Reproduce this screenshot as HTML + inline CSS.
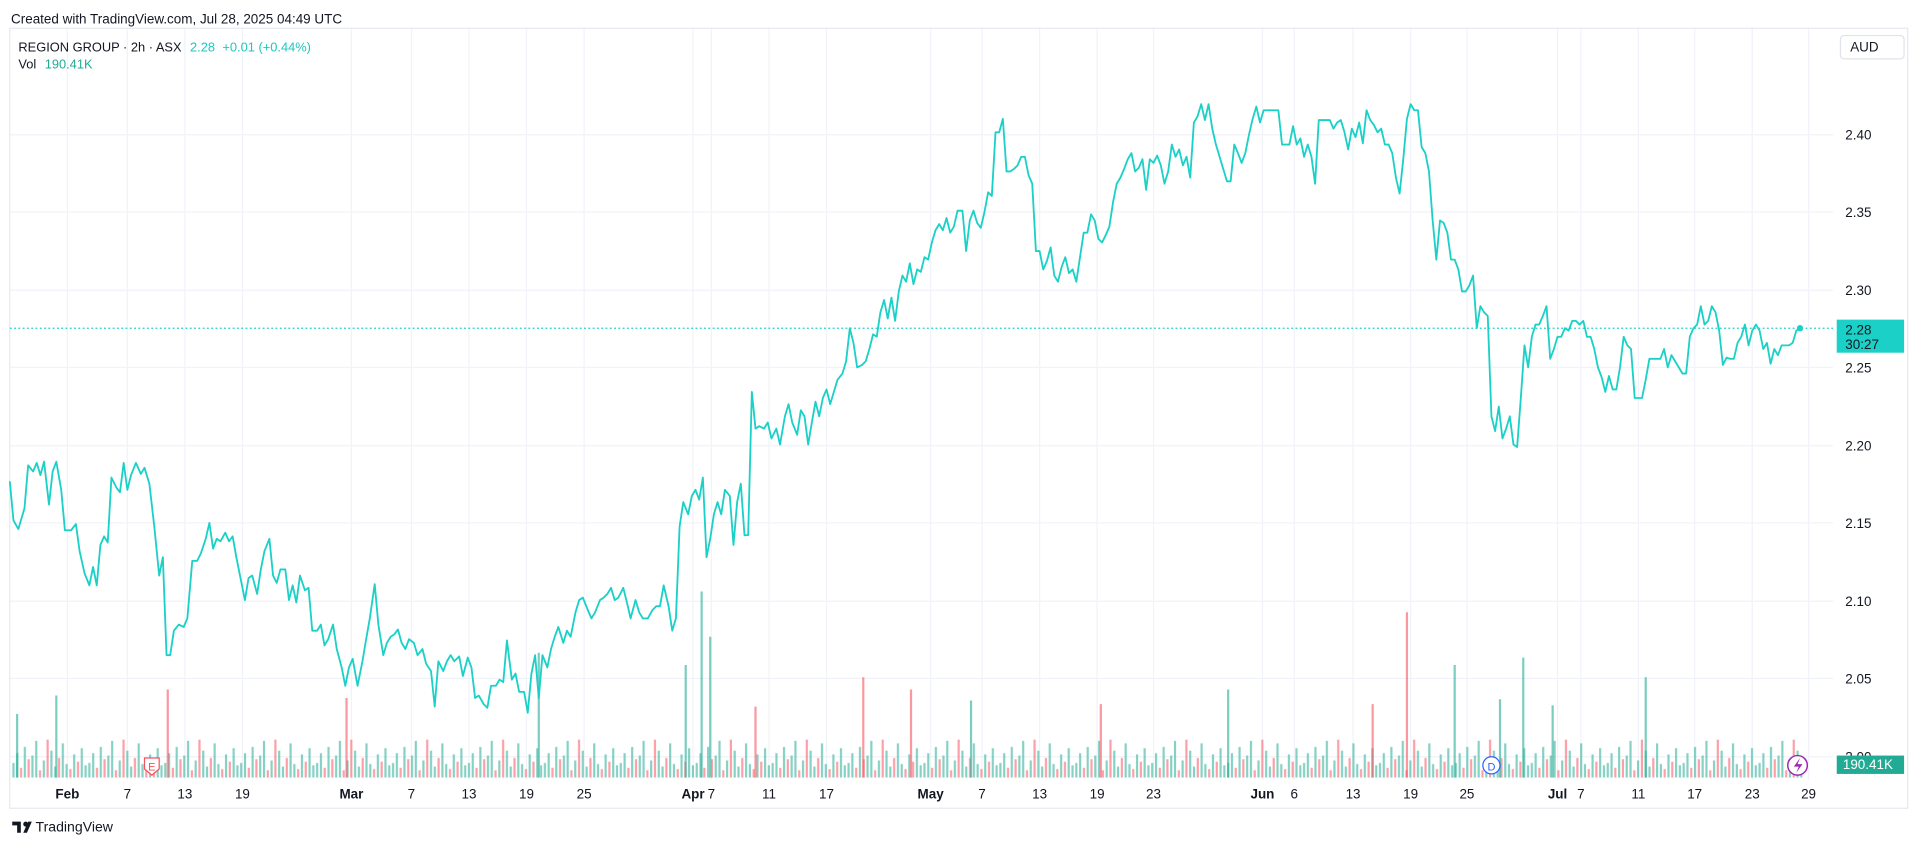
<!DOCTYPE html>
<html><head><meta charset="utf-8"><style>
html,body{margin:0;padding:0;background:#fff;}
svg{display:block;font-family:"Liberation Sans",Arial,sans-serif;}
</style></head><body>
<svg width="1920" height="845" viewBox="0 0 1568 690" xmlns="http://www.w3.org/2000/svg">
<defs>
<pattern id="vp" patternUnits="userSpaceOnUse" x="10" y="590" width="62" height="45">
<g stroke-width="1.8">
<path stroke="rgba(34,171,148,0.55)" d="M1 45V33 M4.1 45V25 M10.3 45V20 M16.5 45V27 M19.6 45V15 M25.8 45V31 M32 45V23 M35.1 45V36 M41.3 45V17 M44.4 45V34 M50.6 45V26 M56.8 45V21 M59.9 45V35"/>
<path stroke="rgba(247,82,95,0.55)" d="M7.2 45V37 M13.4 45V30 M22.7 45V39 M28.9 45V14 M38.2 45V29 M47.5 45V38 M53.7 45V32"/>
</g>
</pattern>
</defs>
<rect width="1568" height="690" fill="#fff"/>
<g stroke="#f0f3fa" stroke-width="1">
<path d="M8 110H1497M8 173H1497M8 237H1497M8 300H1497M8 364H1497M8 427H1497M8 491H1497M8 554H1497M8 618H1497"/>
<path d="M55 23V637M104 23V637M151 23V637M198 23V637M287 23V637M336 23V637M383 23V637M430 23V637M477 23V637M566 23V637M581 23V637M628 23V637M675 23V637M760 23V637M802 23V637M849 23V637M896 23V637M942 23V637M1031 23V637M1057 23V637M1105 23V637M1152 23V637M1198 23V637M1272 23V637M1291 23V637M1338 23V637M1384 23V637M1431 23V637M1477 23V637"/>
</g>
<rect x="8" y="23" width="1550" height="637" fill="none" stroke="#e0e3eb" stroke-width="0.8"/>
<rect x="9" y="590" width="1463" height="45" fill="url(#vp)"/>
<g stroke-width="1.8">
<path stroke="rgba(34,171,148,0.6)" d="M14 635V583M46 635V568M440 635V533M560 635V543M573 635V483M580 635V520M793 635V572M1003 635V563M1188 635V543M1225 635V571M1244 635V537M1268 635V576M1344 635V553"/>
<path stroke="rgba(247,82,95,0.6)" d="M137 635V563M283 635V570M617 635V577M705 635V553M744 635V563M899 635V575M1121 635V575M1149 635V500"/>
</g>
<line x1="8" y1="268" x2="1497" y2="268" stroke="#1bd1c7" stroke-width="1" stroke-dasharray="1.5,2"/>
<polyline fill="none" stroke="#1bd1c7" stroke-width="1.5" stroke-linejoin="round" points="8,393 11,425 15,432 20,415 23,380 27,385 30,378 33,388 36,377 40,412 43,385 46,377 50,400 53,433 58,433 62,428 65,450 69,468 73,478 76,463 79,478 82,445 85,438 88,443 91,390 95,398 98,402 101,378 104,400 107,388 111,378 115,387 118,382 122,395 126,430 130,470 133,455 136,535 139,535 142,515 146,510 150,512 153,505 157,458 161,458 164,452 168,440 171,427 174,448 177,440 180,442 184,435 187,442 190,438 193,455 197,475 200,490 203,472 206,470 210,485 213,465 216,450 220,440 223,470 226,476 229,465 233,465 236,490 239,478 242,492 245,470 249,482 252,480 255,515 259,515 262,510 265,527 268,522 272,510 275,530 279,545 282,560 285,545 288,538 292,560 296,540 299,522 302,505 306,477 309,510 313,535 316,525 319,520 322,518 325,514 328,525 331,530 334,522 338,525 341,535 345,530 348,542 352,548 355,577 358,540 362,548 365,540 368,535 371,540 375,536 378,552 382,537 385,545 388,570 391,568 395,575 398,578 401,560 405,560 408,555 411,557 414,523 418,555 421,550 424,565 428,565 431,582 434,550 437,535 440,570 443,535 447,545 450,530 453,520 456,512 460,525 463,515 466,520 470,500 473,490 476,488 480,498 483,505 486,500 490,490 493,488 496,485 499,480 502,490 505,488 509,480 512,492 515,505 519,490 522,500 525,505 529,505 533,498 536,495 539,495 542,478 546,495 549,515 552,505 555,430 558,410 562,420 565,405 568,400 571,408 574,390 577,455 580,440 583,420 586,410 589,420 592,400 596,405 599,445 602,410 605,395 608,437 611,437 614,320 617,350 620,348 624,350 627,345 630,358 634,350 637,363 641,340 644,330 647,345 651,355 654,335 657,340 660,363 663,345 666,328 669,340 672,325 675,318 678,330 681,320 684,310 688,305 691,295 694,268 697,280 700,300 704,298 707,295 710,285 713,273 716,275 719,255 722,245 725,260 728,243 731,262 734,238 737,225 740,230 743,215 746,232 749,220 752,222 755,210 758,212 761,198 764,188 767,183 770,188 773,178 776,190 779,185 782,172 786,172 789,205 792,180 795,172 798,182 801,186 804,173 807,157 810,160 813,108 816,108 819,97 822,140 825,140 828,138 831,135 834,128 837,128 840,143 843,150 846,205 849,205 852,220 855,213 858,202 861,225 864,230 867,218 870,210 873,223 876,220 879,230 882,210 885,190 888,190 891,175 894,180 897,195 900,198 903,192 906,185 909,165 912,150 915,145 918,138 921,130 924,125 927,140 930,137 933,130 936,155 939,130 942,133 945,127 948,135 951,150 954,140 957,118 960,128 963,122 966,135 969,128 972,145 975,100 978,95 981,85 984,98 987,85 990,105 993,118 996,128 999,138 1002,148 1005,148 1008,118 1011,125 1014,133 1017,125 1020,110 1023,97 1026,87 1029,100 1032,90 1035,90 1038,90 1041,90 1044,90 1047,118 1050,118 1053,118 1056,103 1059,118 1062,113 1065,128 1068,118 1071,128 1074,150 1077,98 1080,98 1083,98 1086,98 1089,105 1092,100 1095,98 1098,108 1101,122 1104,105 1107,112 1110,100 1113,117 1116,90 1119,98 1122,102 1125,108 1128,105 1131,118 1134,118 1137,125 1140,145 1143,158 1146,130 1149,97 1152,85 1155,90 1158,90 1161,120 1164,125 1167,140 1170,180 1173,212 1176,180 1179,182 1182,190 1185,212 1188,212 1191,220 1194,238 1197,238 1200,233 1203,225 1206,268 1209,250 1212,255 1215,258 1218,340 1221,352 1224,332 1227,358 1230,350 1233,340 1236,363 1239,365 1242,325 1245,282 1248,300 1251,275 1254,265 1257,265 1260,258 1263,250 1266,293 1269,285 1272,275 1275,275 1278,268 1281,270 1284,262 1287,262 1290,265 1293,262 1296,275 1299,275 1302,285 1305,300 1308,308 1311,320 1314,307 1317,318 1320,318 1323,300 1326,275 1329,282 1332,285 1335,325 1338,325 1341,325 1344,310 1347,293 1350,293 1353,293 1356,293 1359,285 1362,300 1365,290 1368,295 1371,300 1374,305 1377,305 1380,275 1383,268 1386,265 1389,250 1392,265 1395,262 1398,250 1401,255 1404,270 1407,298 1410,292 1413,293 1416,293 1419,280 1422,275 1425,265 1428,282 1431,270 1434,265 1437,270 1440,285 1443,280 1446,297 1449,285 1452,290 1455,282 1458,282 1461,282 1464,280 1467,270 1470,268"/>
<circle cx="1470" cy="268" r="2.6" fill="#1bd1c7"/>
<g font-size="11" fill="#131722">
<text x="1507" y="114">2.40</text><text x="1507" y="177">2.35</text><text x="1507" y="241">2.30</text><text x="1507" y="304">2.25</text><text x="1507" y="368">2.20</text><text x="1507" y="431">2.15</text><text x="1507" y="495">2.10</text><text x="1507" y="558">2.05</text><text x="1507" y="622">2.00</text>
</g>
<g font-size="11" fill="#131722" text-anchor="middle">
<text x="55" y="652" font-weight="bold">Feb</text><text x="104" y="652">7</text><text x="151" y="652">13</text><text x="198" y="652">19</text><text x="287" y="652" font-weight="bold">Mar</text><text x="336" y="652">7</text><text x="383" y="652">13</text><text x="430" y="652">19</text><text x="477" y="652">25</text><text x="566" y="652" font-weight="bold">Apr</text><text x="581" y="652">7</text><text x="628" y="652">11</text><text x="675" y="652">17</text><text x="760" y="652" font-weight="bold">May</text><text x="802" y="652">7</text><text x="849" y="652">13</text><text x="896" y="652">19</text><text x="942" y="652">23</text><text x="1031" y="652" font-weight="bold">Jun</text><text x="1057" y="652">6</text><text x="1105" y="652">13</text><text x="1152" y="652">19</text><text x="1198" y="652">25</text><text x="1272" y="652" font-weight="bold">Jul</text><text x="1291" y="652">7</text><text x="1338" y="652">11</text><text x="1384" y="652">17</text><text x="1431" y="652">23</text><text x="1477" y="652">29</text>
</g>
<text x="9" y="19" font-size="11" fill="#131722">Created with TradingView.com, Jul 28, 2025 04:49 UTC</text>
<text x="15" y="42" font-size="10.5" fill="#131722">REGION GROUP · 2h · ASX <tspan fill="#1bc9bf" dx="4">2.28</tspan><tspan fill="#1bc9bf" dx="6">+0.01 (+0.44%)</tspan></text>
<text x="15" y="56" font-size="10.5" fill="#131722">Vol <tspan fill="#22ab94" dx="4">190.41K</tspan></text>
<rect x="1503" y="29" width="52" height="19" rx="3" fill="#fff" stroke="#e0e3eb"/>
<text x="1511" y="42" font-size="11" fill="#131722">AUD</text>
<rect x="1500" y="261" width="55" height="27" fill="#1bd1c7"/>
<text x="1507" y="273" font-size="11" fill="#131722">2.28</text>
<text x="1507" y="285" font-size="11" fill="#131722">30:27</text>
<rect x="1500" y="617" width="55" height="15" fill="#22ab94"/>
<text x="1505" y="628" font-size="11" fill="#fff">190.41K</text>
<path d="M118 619 h12 v9 l-6 5 l-6 -5 z" fill="#fff" stroke="#f7525f" stroke-width="1"/>
<text x="124" y="629" font-size="9" fill="#f7525f" text-anchor="middle">E</text>
<circle cx="1218" cy="625" r="7" fill="#fff" stroke="#2962ff" stroke-width="1"/>
<text x="1218" y="629" font-size="9" fill="#2962ff" text-anchor="middle">D</text>
<circle cx="1468" cy="625" r="8" fill="#fff" stroke="#9c27b0" stroke-width="1.2"/>
<path d="M1470 619 l-5 7 h4 l-2 5 l5 -7 h-4 z" fill="#9c27b0"/>
<g transform="translate(10,669)">
<path d="M0 2 h7 v9 h-3 v-6 h-4z M9 11 l4 -9 h3 l-4 9z" fill="#131722"/>
<circle cx="11" cy="4" r="2" fill="#131722"/>
<text x="19" y="10" font-size="11.5" fill="#131722">TradingView</text>
</g>
</svg>
</body></html>
